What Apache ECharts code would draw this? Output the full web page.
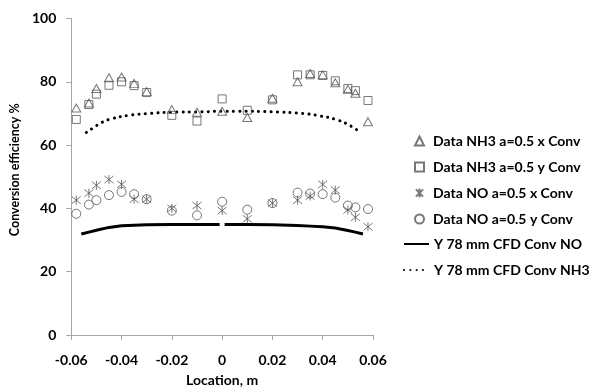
<!DOCTYPE html>
<html>
<head>
<meta charset="utf-8">
<script src="https://cdn.jsdelivr.net/npm/echarts@6/dist/echarts.min.js"></script>
<style>
html,body{margin:0;padding:0;background:#fff;}
#c{width:589px;height:392px;}
</style>
</head>
<body>
<div id="c"></div>
<script>
// Measured locations (m)
var locations = [-0.058,-0.053,-0.05,-0.045,-0.04,-0.035,-0.03,-0.02,-0.01,0,0.01,0.02,0.03,0.035,0.04,0.045,0.05,0.053,0.058];
var nh3XConv = [71.7,73.3,77.9,81.3,81.5,79.5,76.9,71.2,70.4,70.7,68.7,74.8,80.0,82.6,82.2,79.7,77.6,76.4,67.4];
var nh3YConv = [68.1,72.8,76.1,78.9,80.0,78.8,76.6,69.4,67.6,74.6,71.0,74.3,82.2,82.2,82.0,80.3,77.9,77.2,74.1];
var noXConv  = [42.6,44.8,47.3,49.1,47.6,42.9,42.9,40.0,40.9,39.3,36.7,41.7,42.6,43.9,47.6,45.8,39.5,37.2,34.2];
var noYConv  = [38.3,41.2,42.6,44.2,45.2,44.5,42.9,39.3,37.8,42.1,39.6,41.7,45.0,44.7,44.5,43.4,40.9,40.3,39.8];

// CFD curves
var cfdNOLoc = [-0.056,-0.053,-0.05,-0.045,-0.04,-0.03,-0.02,-0.01,-0.001,0,0.001,0.01,0.02,0.03,0.035,0.04,0.045,0.05,0.053,0.056];
var cfdNO    = [31.9,32.5,33.1,34.0,34.5,34.8,34.9,34.9,34.9,null,34.9,34.9,34.8,34.6,34.4,34.2,33.8,33.0,32.5,31.9];
var cfdNH3Loc = [-0.054,-0.051,-0.048,-0.044,-0.037,-0.029,-0.02,-0.008,0,0.006,0.02,0.032,0.039,0.046,0.051,0.055];
var cfdNH3    = [64.0,65.6,67.1,68.3,69.4,70.0,70.4,70.5,70.7,70.7,70.5,70.0,69.2,67.9,66.1,64.0];

var xTicks = [-0.06,-0.04,-0.02,0,0.02,0.04,0.06];
var yTicks = [0,20,40,60,80,100];

var markerNames = ['Data NH3 a=0.5 x Conv','Data NH3 a=0.5 y Conv','Data NO a=0.5 x Conv','Data NO a=0.5 y Conv'];
var lineNames = ['Y 78 mm CFD Conv NO','Y 78 mm CFD Conv NH3'];

function pairs(xs, ys){ return xs.map(function(x,i){ return [x, ys[i] == null ? '-' : ys[i]]; }); }

var FONT = 'Lato';
var markerStyle = {color:'rgba(0,0,0,0)', borderColor:'#555', borderWidth:1};
var starPath = 'path://M1,1L9,9M9,1L1,9M5,0L5,10';
var legendText = {fontFamily:FONT, fontWeight:'bold', fontSize:14, color:'#000', lineHeight:16};

var chart = echarts.init(document.getElementById('c'));
chart.setOption({
  animation:false,
  backgroundColor:'#fff',
  grid:{left:69, right:216, top:18.5, bottom:49.7, containLabel:false},
  xAxis:{
    type:'value', min:-0.06, max:0.06, interval:0.02,
    name:'Location, m', nameLocation:'middle', nameGap:38,
    nameTextStyle:{fontFamily:FONT, fontWeight:'bold', fontSize:14, color:'#000'},
    axisLine:{onZero:false, lineStyle:{color:'#a6a6a6', width:1}},
    axisTick:{show:true, length:5, lineStyle:{color:'#a6a6a6'}},
    splitLine:{show:false},
    axisLabel:{margin:18, fontFamily:FONT, fontWeight:'bold', fontSize:14, color:'#000',
      formatter:function(v){ var t = xTicks.reduce(function(a,b){return Math.abs(b-v)<Math.abs(a-v)?b:a;}); return t===0?'0':t.toFixed(2); }}
  },
  yAxis:{
    type:'value', min:0, max:100, interval:20,
    name:'Conversion efficiency %', nameLocation:'middle', nameGap:43,
    nameTextStyle:{fontFamily:FONT, fontWeight:'bold', fontSize:12.5, color:'#000', padding:[0,0,0,14]},
    axisLine:{show:true, onZero:false, lineStyle:{color:'#a6a6a6', width:1}},
    axisTick:{show:true, length:5, lineStyle:{color:'#a6a6a6'}},
    splitLine:{show:false},
    axisLabel:{margin:15, fontFamily:FONT, fontWeight:'bold', fontSize:14, color:'#000',
      formatter:function(v){ var t = yTicks.reduce(function(a,b){return Math.abs(b-v)<Math.abs(a-v)?b:a;}); return String(t); }}
  },
  legend:[
    {orient:'vertical', left:414, top:133, padding:0, itemWidth:9, itemHeight:9, itemGap:10,
      textStyle:Object.assign({padding:[0,0,0,4]}, legendText), data:markerNames},
    {orient:'vertical', left:403, top:236, padding:0, itemWidth:25, itemHeight:9, itemGap:10,
      textStyle:legendText,
      data:lineNames.map(function(n){ return {name:n, itemStyle:{opacity:0}}; })}
  ],
  series:[
    {name:lineNames[0], type:'line', data:pairs(cfdNOLoc, cfdNO), showSymbol:false, symbol:'none',
      connectNulls:false, lineStyle:{color:'#000', width:3}, itemStyle:{color:'#000'}, z:2},
    {name:lineNames[1], type:'line', data:pairs(cfdNH3Loc, cfdNH3), showSymbol:false, symbol:'none', smooth:true,
      lineStyle:{color:'#000', width:3, type:[0.1,6.2], cap:'round'}, itemStyle:{color:'#000'}, z:2},
    {name:markerNames[0], type:'scatter', data:pairs(locations, nh3XConv), symbol:'triangle', symbolSize:[9,8], itemStyle:markerStyle, z:3},
    {name:markerNames[1], type:'scatter', data:pairs(locations, nh3YConv), symbol:'rect', symbolSize:8, itemStyle:markerStyle, z:3},
    {name:markerNames[2], type:'scatter', data:pairs(locations, noXConv), symbol:starPath, symbolSize:9, itemStyle:markerStyle, z:3},
    {name:markerNames[3], type:'scatter', data:pairs(locations, noYConv), symbol:'circle', symbolSize:9, itemStyle:markerStyle, z:3}
  ]
});
</script>
</body>
</html>
